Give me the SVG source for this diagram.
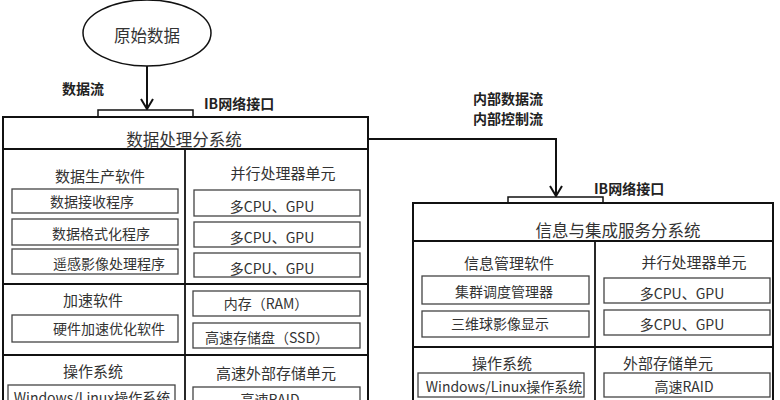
<svg xmlns="http://www.w3.org/2000/svg" width="780" height="400" viewBox="0 0 780 400">
<defs>
<marker id="arr" viewBox="0 0 12 14" refX="11" refY="7" markerWidth="12" markerHeight="14" markerUnits="userSpaceOnUse" orient="auto">
<path d="M1,1 L11,7 L1,13" fill="none" stroke="#111" stroke-width="2"/>
</marker>
<style>
.outer{fill:#fff;stroke:#111;stroke-width:2}
.div{stroke:#111;stroke-width:1.8;fill:none}
.sub{fill:#fff;stroke:#444;stroke-width:1.3}
.t{font-family:"Noto Sans CJK SC","Noto Sans",sans-serif;fill:#333;text-anchor:middle;dominant-baseline:central}
.title{font-size:16.5px}
.hd{font-size:15px}
.bx{font-size:14px}
.lb{font-family:"Noto Sans CJK SC","Noto Sans",sans-serif;font-size:14px;font-weight:bold;fill:#222;dominant-baseline:central}
.con{fill:none;stroke:#111;stroke-width:2}
</style>
</defs>
<rect width="780" height="400" fill="#fff"/>

<g id="connectors">
<line class="con" x1="147" y1="66" x2="147" y2="109" marker-end="url(#arr)"/>
<path class="con" d="M368,139 H556 V196" marker-end="url(#arr)"/>
<text class="lb" x="62" y="88">数据流</text>
<text class="lb" x="473" y="98">内部数据流</text>
<text class="lb" x="473" y="118">内部控制流</text>
</g>

<g id="raw-data">
<ellipse cx="147" cy="33" rx="64" ry="33" fill="#fff" stroke="#111" stroke-width="1.5"/>
<text class="t title" x="147" y="35">原始数据</text>
</g>

<g id="data-processing">
<rect class="sub" x="98" y="110" width="95" height="7" style="stroke:#111;stroke-width:1.5"/>
<text class="lb" x="204" y="103">IB网络接口</text>
<rect class="outer" x="3" y="117" width="365" height="300"/>
<line class="div" x1="3" y1="149" x2="368" y2="149"/>
<line class="div" x1="185" y1="149" x2="185" y2="417"/>
<line class="div" x1="3" y1="284" x2="368" y2="284"/>
<line class="div" x1="3" y1="355" x2="368" y2="355"/>
<text class="t title" x="184" y="139">数据处理分系统</text>
<text class="t hd" x="100" y="175">数据生产软件</text>
<text class="t hd" x="283" y="172">并行处理器单元</text>
<rect class="sub" x="12" y="189" width="166" height="24"/>
<text class="t bx" x="92" y="201">数据接收程序</text>
<rect class="sub" x="12" y="219" width="166" height="26"/>
<text class="t bx" x="101" y="233">数据格式化程序</text>
<rect class="sub" x="12" y="249" width="166" height="25"/>
<text class="t bx" x="109" y="263">遥感影像处理程序</text>
<rect class="sub" x="194" y="190" width="166" height="26"/>
<text class="t bx" x="272" y="206">多CPU、GPU</text>
<rect class="sub" x="194" y="222" width="166" height="25"/>
<text class="t bx" x="272" y="237">多CPU、GPU</text>
<rect class="sub" x="194" y="253" width="166" height="24"/>
<text class="t bx" x="272" y="268">多CPU、GPU</text>
<text class="t hd" x="93" y="299">加速软件</text>
<rect class="sub" x="12" y="315" width="166" height="27"/>
<text class="t bx" x="109" y="328">硬件加速优化软件</text>
<rect class="sub" x="193" y="291" width="167" height="25"/>
<text class="t bx" x="266" y="303">内存（RAM）</text>
<rect class="sub" x="193" y="323" width="167" height="25"/>
<text class="t bx" x="267" y="337">高速存储盘（SSD）</text>
<text class="t hd" x="93" y="370">操作系统</text>
<text class="t hd" x="276" y="372">高速外部存储单元</text>
<rect class="sub" x="8" y="385" width="167" height="30"/>
<text class="t bx" x="92" y="397">Windows/Linux操作系统</text>
<rect class="sub" x="193" y="387" width="167" height="30"/>
<text class="t bx" x="270" y="399">高速RAID</text>
</g>

<g id="info-integration">
<rect class="sub" x="508" y="197" width="95" height="6" style="stroke:#111;stroke-width:1.5"/>
<text class="lb" x="594" y="188">IB网络接口</text>
<rect class="outer" x="413" y="203" width="360" height="210"/>
<line class="div" x1="413" y1="241" x2="773" y2="241"/>
<line class="div" x1="595" y1="241" x2="595" y2="413"/>
<line class="div" x1="413" y1="347" x2="773" y2="347"/>
<text class="t title" x="618" y="230">信息与集成服务分系统</text>
<text class="t hd" x="509" y="262">信息管理软件</text>
<text class="t hd" x="694" y="261">并行处理器单元</text>
<rect class="sub" x="422" y="276" width="167" height="28"/>
<text class="t bx" x="504" y="291">集群调度管理器</text>
<rect class="sub" x="422" y="311" width="167" height="26"/>
<text class="t bx" x="500" y="323">三维球影像显示</text>
<rect class="sub" x="604" y="278" width="166" height="25"/>
<text class="t bx" x="682" y="293">多CPU、GPU</text>
<rect class="sub" x="604" y="310" width="166" height="25"/>
<text class="t bx" x="682" y="324">多CPU、GPU</text>
<text class="t hd" x="502" y="362">操作系统</text>
<text class="t hd" x="668" y="362">外部存储单元</text>
<rect class="sub" x="418" y="373" width="166" height="24"/>
<text class="t bx" x="504" y="386">Windows/Linux操作系统</text>
<rect class="sub" x="604" y="373" width="166" height="24"/>
<text class="t bx" x="684" y="386">高速RAID</text>
</g>
</svg>
